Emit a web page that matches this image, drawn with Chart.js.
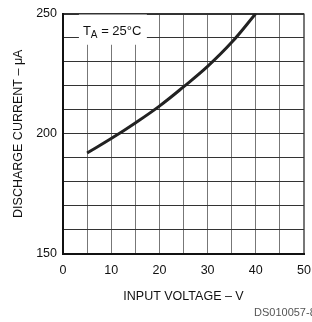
<!DOCTYPE html>
<html>
<head>
<meta charset="utf-8">
<script src="https://cdn.jsdelivr.net/npm/chart.js@4.4.1/dist/chart.umd.min.js"></script>
<style>
  html, body { margin: 0; padding: 0; background: #fff; }
  #wrap { width: 312px; height: 322px; position: relative; }
</style>
</head>
<body>
<div id="wrap"><canvas id="dischargeChart"></canvas></div>
<script>
// Data (T_A = 25°C)
const inputVoltage = [5, 10, 15, 20, 25, 30, 35, 40];
const dischargeCurrent = [192, 198, 204.5, 211.5, 219.5, 228, 238, 250];

// Axis ticks
const xTickLabels = [0, 10, 20, 30, 40, 50];
const yTickLabels = [150, 200, 250];

const fontFamily = "'Liberation Sans', Arial, sans-serif";

// Kotak label suhu + kode dokumen
const notePlugin = {
    id: 'notes',
    afterDraw(chart) {
        const ctx = chart.ctx;
        const x = chart.scales.x, y = chart.scales.y;
        const left = x.getPixelForValue(3.3), right = x.getPixelForValue(17.4);
        const top = y.getPixelForValue(250) + 1, bottom = y.getPixelForValue(237);
        ctx.save();
        ctx.fillStyle = '#fff';
        ctx.fillRect(left, top, right - left, bottom - top);
        ctx.fillStyle = '#111';
        ctx.textBaseline = 'alphabetic';
        ctx.font = '13px ' + fontFamily;
        let tx = left + 4, ty = top + 20;
        ctx.fillText('T', tx, ty);
        tx += ctx.measureText('T').width;
        ctx.font = '10px ' + fontFamily;
        ctx.fillText('A', tx, ty + 3);
        tx += ctx.measureText('A').width;
        ctx.font = '13px ' + fontFamily;
        ctx.fillText(' = 25°C', tx, ty);

        ctx.fillStyle = '#555';
        ctx.font = '11px ' + fontFamily;
        ctx.fillText('DS010057-8', 254, 316);
        ctx.restore();
    }
};

const ctx = document.getElementById('dischargeChart').getContext('2d');
new Chart(ctx, {
    type: 'line',
    data: {
        datasets: [{
            label: 'Discharge current',
            data: inputVoltage.map((v, i) => ({ x: v, y: dischargeCurrent[i] })),
            borderColor: '#222',
            borderWidth: 3,
            pointRadius: 0,
            tension: 0.4,
            fill: false
        }]
    },
    options: {
        responsive: true,
        maintainAspectRatio: false,
        animation: false,
        layout: { padding: { top: 13, right: 0, left: 0, bottom: 0 } },
        plugins: {
            legend: { display: false },
            tooltip: { enabled: false }
        },
        scales: {
            x: {
                type: 'linear',
                min: 0, max: 50,
                ticks: {
                    stepSize: 5,
                    autoSkip: false,
                    maxRotation: 0,
                    color: '#111',
                    padding: 9,
                    font: { family: fontFamily, size: 12.5 },
                    callback: v => xTickLabels.includes(v) ? String(v) : ''
                },
                grid: {
                    color: '#777',
                    lineWidth: c => c.tick && c.tick.value === 50 ? 2 : 1,
                    drawTicks: false
                },
                border: { color: '#111', width: 2 },
                title: {
                    display: true,
                    text: 'INPUT VOLTAGE – V',
                    color: '#111',
                    font: { family: fontFamily, size: 12.5 },
                    padding: { top: 6, bottom: 18 }
                },
                afterFit: s => { s.height = 68; s.paddingRight = 8; }
            },
            y: {
                type: 'linear',
                min: 150, max: 250,
                ticks: {
                    stepSize: 10,
                    autoSkip: false,
                    color: '#111',
                    padding: 6,
                    font: { family: fontFamily, size: 12.5 },
                    callback: v => yTickLabels.includes(v) ? String(v) : ''
                },
                grid: {
                    color: '#333',
                    lineWidth: c => c.tick && c.tick.value === 250 ? 2 : 1,
                    drawTicks: false
                },
                border: { color: '#111', width: 2 },
                title: {
                    display: true,
                    text: 'DISCHARGE CURRENT – μA',
                    color: '#111',
                    font: { family: fontFamily, size: 12.5 },
                    padding: { top: 11, bottom: 0 }
                },
                afterFit: s => { s.width = 63; }
            }
        }
    },
    plugins: [notePlugin]
});
</script>
</body>
</html>
